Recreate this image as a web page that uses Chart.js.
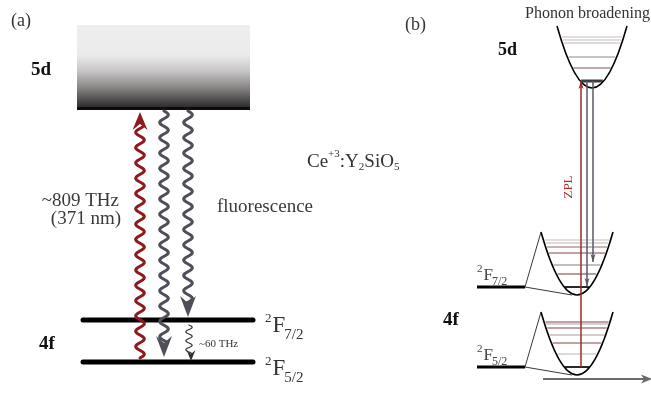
<!DOCTYPE html>
<html><head><meta charset="utf-8">
<script src="https://cdn.jsdelivr.net/npm/chart.js@4/dist/chart.umd.min.js"></script>
<style>html,body{margin:0;padding:0;background:#fff;overflow:hidden}canvas{display:block}</style>
</head><body>
<canvas id="c" width="651" height="398"></canvas>
<script>
// ---------------- data ----------------
const panelLabels = ['(a)', '(b)'];
const manifolds = ['5d', '4f'];
const levelTerms = ['7/2', '5/2'];          // 2F_J sublevels of the 4f ground manifold
const levelYA = [320, 362];                 // panel (a): 2F7/2, 2F5/2 heights (diagram units)
const levelYB = [287, 367];                 // panel (b): 2F7/2, 2F5/2 heights
const bandYA = [25, 109];                   // panel (a): 5d band top / bottom
const excitationText = ['~809 THz', '(371 nm)'];
const fluorescenceText = 'fluorescence';
const splittingText = '~60 THz';
const hostText = ['Ce', '+3', ':Y', '2', 'SiO', '5'];
const zplText = 'ZPL';
const broadeningText = 'Phonon broadening';
const waveX = [140, 164, 188];              // excitation, fluorescence to 5/2, fluorescence to 7/2
const waveEndY = [362, 357, 317];
const zplX = [581, 587, 593];
const zplEndY = [367, 286, 262];
const phononTop = [37, 40, 43, 57, 68];
const phonon72 = [240, 243, 247, 253, 265, 274];
const phonon52 = [322, 324, 328, 335, 343, 354];

// ---------------- layout ----------------
const RED = '#8e1b1b', GRAY = '#4f4f5a', FONT = '"Liberation Serif", "DejaVu Serif", serif';
const wellTop = {vx: 592, vy: 88, w: 35, ty: 26, ground: 81, lines: phononTop,
  colors: ['#d4d4d4', '#d8d0d0', '#d9cccc', '#b8aeae', '#a88a8a']};
const well72 = {vx: 577, vy: 295, w: 36, ty: 232, ground: levelYB[0], lines: phonon72,
  colors: ['#d6d6d6', '#d4cccc', '#b89a9a', '#a88484', '#b0a8a8', '#a07c7c']};
const well52 = {vx: 577, vy: 375, w: 36, ty: 312, ground: levelYB[1], lines: phonon52,
  colors: ['#a88484', '#c8c0c0', '#a88484', '#c4bcbc', '#a88484', '#d0cccc']};

function seg(pts, color, width, cap) {
  return {data: pts, borderColor: color, borderWidth: width, pointRadius: 0, showLine: true,
    fill: false, borderCapStyle: cap || 'butt', tension: 0};
}
const datasets = [];
levelYA.forEach(y => datasets.push(seg([{x: 83, y}, {x: 253, y}], '#000', 5, 'round')));
levelYB.forEach((y, i) => {
  const w = i === 0 ? well72 : well52;
  datasets.push(seg([{x: w.vx - w.w, y: w.ty}, {x: 525, y}, {x: w.vx - 5, y: w.vy}], '#222', 0.9));
  datasets.push(seg([{x: 477, y}, {x: 525, y}], '#000', 3.2));
});
zplX.forEach((x, i) => datasets.push(seg([{x, y: wellTop.ground}, {x, y: zplEndY[i]}], i === 0 ? '#a32a2a' : '#5a5a66', 1.5)));
datasets.push(seg([{x: 543, y: 379}, {x: 644, y: 379}], '#6b6b6b', 2));

function drawWell(ctx, P, w) {
  const X = P.x, Y = P.y;
  w.lines.forEach((y, i) => {
    const hw = w.w * Math.sqrt((w.vy - y) / (w.vy - w.ty)) - 1.5;
    ctx.strokeStyle = w.colors[i]; ctx.lineWidth = 1.3;
    ctx.beginPath(); ctx.moveTo(X(w.vx - hw), Y(y)); ctx.lineTo(X(w.vx + hw), Y(y)); ctx.stroke();
  });
  const hg = w.w * Math.sqrt((w.vy - w.ground) / (w.vy - w.ty)) - 1;
  ctx.strokeStyle = w === wellTop ? '#3c3c3c' : '#111'; ctx.lineWidth = w === wellTop ? 3 : 1.8;
  ctx.beginPath(); ctx.moveTo(X(w.vx - hg), Y(w.ground)); ctx.lineTo(X(w.vx + hg), Y(w.ground)); ctx.stroke();
  ctx.strokeStyle = '#000'; ctx.lineWidth = 1.6;
  ctx.beginPath(); ctx.moveTo(X(w.vx - w.w), Y(w.ty));
  ctx.quadraticCurveTo(X(w.vx), Y(2 * w.vy - w.ty), X(w.vx + w.w), Y(w.ty)); ctx.stroke();
}
function wave(ctx, P, x, y0, y1, amp, period, width, color) {
  ctx.strokeStyle = color; ctx.lineWidth = width; ctx.lineCap = 'round'; ctx.lineJoin = 'round';
  ctx.beginPath();
  const dir = y1 > y0 ? 1 : -1, n = Math.abs(y1 - y0);
  for (let s = 0; s <= n; s += 0.5) {
    const xx = x + amp * Math.sin(2 * Math.PI * s / period), yy = y0 + dir * s;
    if (s === 0) ctx.moveTo(P.x(xx), P.y(yy)); else ctx.lineTo(P.x(xx), P.y(yy));
  }
  ctx.stroke();
}
function head(ctx, P, x, tipY, dir, hw, len, notch, color) {
  ctx.fillStyle = color; ctx.beginPath();
  ctx.moveTo(P.x(x), P.y(tipY));
  ctx.lineTo(P.x(x - hw), P.y(tipY - dir * len));
  ctx.lineTo(P.x(x), P.y(tipY - dir * notch));
  ctx.lineTo(P.x(x + hw), P.y(tipY - dir * len));
  ctx.closePath(); ctx.fill();
}
function txt(ctx, P, s, x, y, size, color, opts) {
  opts = opts || {};
  ctx.font = (opts.bold ? 'bold ' : '') + size + 'px ' + FONT;
  ctx.fillStyle = color; ctx.textAlign = opts.align || 'left'; ctx.textBaseline = 'alphabetic';
  ctx.fillText(s, P.x(x), P.y(y));
  return ctx.measureText(s).width;
}
function term(ctx, P, x, y, sub, big, color) {
  const s1 = big ? 13 : 11, s2 = big ? 23 : 17, s3 = big ? 15 : 12;
  let cx = x;
  cx += txt(ctx, P, '2', cx, y - (big ? 10 : 8), s1, color) + 1;
  cx += txt(ctx, P, 'F', cx, y, s2, color) - 1;
  txt(ctx, P, sub, cx, y + (big ? 7 : 5), s3, color);
}

const diagram = {
  id: 'diagram',
  beforeDatasetsDraw(chart) {
    const ctx = chart.ctx, sx = chart.scales.x, sy = chart.scales.y;
    const P = {x: v => sx.getPixelForValue(v), y: v => sy.getPixelForValue(v)};
    ctx.save();
    const g = ctx.createLinearGradient(0, P.y(bandYA[0]), 0, P.y(bandYA[1]));
    g.addColorStop(0, '#eeeeee'); g.addColorStop(0.36, '#ebebeb'); g.addColorStop(0.55, '#c6c4c4');
    g.addColorStop(0.75, '#878484'); g.addColorStop(0.92, '#444242'); g.addColorStop(1, '#262626');
    ctx.fillStyle = g;
    ctx.fillRect(P.x(77), P.y(bandYA[0]), P.x(250) - P.x(77), P.y(bandYA[1]) - P.y(bandYA[0]));
    ctx.fillStyle = '#0c0c0c';
    ctx.fillRect(P.x(77), P.y(bandYA[1] - 2), P.x(250) - P.x(77), 3);
    [wellTop, well72, well52].forEach(w => drawWell(ctx, P, w));
    ctx.restore();
  },
  afterDatasetsDraw(chart) {
    const ctx = chart.ctx, sx = chart.scales.x, sy = chart.scales.y;
    const P = {x: v => sx.getPixelForValue(v), y: v => sy.getPixelForValue(v)};
    ctx.save();
    wave(ctx, P, waveX[0], waveEndY[0] - 4, 127, 4.3, 15.3, 3, RED);
    head(ctx, P, waveX[0], bandYA[1] + 3, -1, 7.5, 18, 12, RED);
    wave(ctx, P, waveX[1], bandYA[1] + 2, waveEndY[1] - 14, 4.3, 15.3, 3, GRAY);
    head(ctx, P, waveX[1], waveEndY[1], 1, 8, 21, 14, GRAY);
    wave(ctx, P, waveX[2], bandYA[1] + 2, waveEndY[2] - 14, 4.3, 15.3, 3, GRAY);
    head(ctx, P, waveX[2], waveEndY[2], 1, 8, 21, 14, GRAY);
    wave(ctx, P, 189, levelYA[0] + 5, levelYA[1] - 8, 3.2, 9, 1.2, '#333');
    head(ctx, P, 191, levelYA[1] - 1, 1, 4.5, 11, 7, '#333');
    head(ctx, P, zplX[0], wellTop.ground, -1, 2.5, 8, 6, '#a32a2a');
    head(ctx, P, zplX[1], zplEndY[1], 1, 2.5, 8, 6, '#5a5a66');
    head(ctx, P, zplX[2], zplEndY[2], 1, 2.5, 8, 6, '#5a5a66');
    ctx.fillStyle = '#6b6b6b'; ctx.beginPath();
    ctx.moveTo(P.x(652), P.y(379)); ctx.lineTo(P.x(641), P.y(374.5)); ctx.lineTo(P.x(644), P.y(379));
    ctx.lineTo(P.x(641), P.y(383.5)); ctx.closePath(); ctx.fill();

    txt(ctx, P, panelLabels[0], 11, 26, 18, '#333');
    txt(ctx, P, manifolds[0], 31, 75, 19, '#111', {bold: true});
    txt(ctx, P, manifolds[1], 39, 349, 19, '#111', {bold: true});
    txt(ctx, P, excitationText[0], 119, 206, 19, '#3a3a3a', {align: 'right'});
    txt(ctx, P, excitationText[1], 121, 224, 19, '#3a3a3a', {align: 'right'});
    txt(ctx, P, fluorescenceText, 217, 212, 19, '#3a3a3a');
    txt(ctx, P, splittingText, 199, 347, 11, '#333');
    term(ctx, P, 265, 332, levelTerms[0], true, '#333');
    term(ctx, P, 265, 375, levelTerms[1], true, '#333');
    let cx = 307;
    cx += txt(ctx, P, hostText[0], cx, 167, 19, '#333');
    cx += txt(ctx, P, hostText[1], cx, 157, 11, '#333');
    cx += txt(ctx, P, hostText[2], cx, 167, 19, '#333');
    cx += txt(ctx, P, hostText[3], cx, 170, 11, '#333');
    cx += txt(ctx, P, hostText[4], cx, 167, 19, '#333');
    txt(ctx, P, hostText[5], cx, 170, 11, '#333');

    txt(ctx, P, panelLabels[1], 405, 30, 18, '#333');
    txt(ctx, P, broadeningText, 525, 18, 16, '#333');
    txt(ctx, P, manifolds[0], 498, 55, 18, '#111', {bold: true});
    txt(ctx, P, manifolds[1], 443, 325, 19, '#111', {bold: true});
    term(ctx, P, 477, 280, levelTerms[0], false, '#444');
    term(ctx, P, 477, 360, levelTerms[1], false, '#444');
    ctx.save();
    ctx.translate(P.x(572), P.y(187)); ctx.rotate(-Math.PI / 2);
    ctx.font = '13px ' + FONT; ctx.fillStyle = '#a83232'; ctx.textAlign = 'center';
    ctx.fillText(zplText, 0, 0);
    ctx.restore();
    ctx.restore();
  }
};

new Chart(document.getElementById('c'), {
  type: 'scatter',
  data: {datasets},
  options: {
    responsive: false, animation: false, maintainAspectRatio: false,
    layout: {padding: 0},
    plugins: {legend: {display: false}, tooltip: {enabled: false}, title: {display: false}},
    scales: {
      x: {type: 'linear', min: 0, max: 651, display: false},
      y: {type: 'linear', min: 0, max: 398, reverse: true, display: false}
    }
  },
  plugins: [diagram]
});
</script>
</body></html>
